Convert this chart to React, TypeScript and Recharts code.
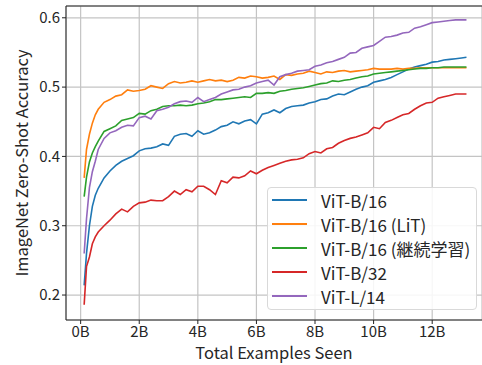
import React from 'react';
import { LineChart, Line, XAxis, YAxis, CartesianGrid, ReferenceLine } from 'recharts';

const steps = [
  0.12, 0.2, 0.3, 0.4, 0.5, 0.6, 0.8, 1.0, 1.2, 1.4, 1.6, 1.8, 2.0, 2.2, 2.4, 2.6, 2.8, 3.0, 3.2, 3.4,
  3.6, 3.8, 4.0, 4.2, 4.4, 4.6, 4.8, 5.0, 5.2, 5.4, 5.6, 5.8, 6.0, 6.2, 6.4, 6.6, 6.8, 7.0, 7.2, 7.4,
  7.6, 7.8, 8.0, 8.2, 8.4, 8.6, 8.8, 9.0, 9.2, 9.4, 9.6, 9.8, 10.0, 10.2, 10.4, 10.6, 10.8, 11.0, 11.2,
  11.4, 11.6, 11.8, 12.0, 12.2, 12.4, 12.6, 12.8, 13.0, 13.17,
];

const vitB16 = [
  0.214, 0.26, 0.3, 0.328, 0.344, 0.354, 0.369, 0.379, 0.387, 0.393, 0.397, 0.401, 0.408, 0.411, 0.412,
  0.414, 0.418, 0.416, 0.429, 0.432, 0.433, 0.429, 0.437, 0.432, 0.434, 0.438, 0.443, 0.445, 0.45, 0.447,
  0.451, 0.453, 0.447, 0.461, 0.463, 0.467, 0.463, 0.469, 0.472, 0.473, 0.474, 0.477, 0.479, 0.482, 0.483,
  0.487, 0.49, 0.489, 0.493, 0.497, 0.5, 0.502, 0.507, 0.509, 0.511, 0.514, 0.518, 0.522, 0.526, 0.529,
  0.531, 0.533, 0.536, 0.537, 0.539, 0.54, 0.541, 0.542, 0.543,
];

const vitB16Lit = [
  0.369, 0.41, 0.432, 0.448, 0.46, 0.468, 0.478, 0.482, 0.487, 0.489, 0.496, 0.494, 0.495, 0.497, 0.502,
  0.5, 0.498, 0.505, 0.508, 0.506, 0.507, 0.509, 0.507, 0.509, 0.511, 0.509, 0.51, 0.508, 0.51, 0.514,
  0.513, 0.516, 0.515, 0.513, 0.514, 0.516, 0.511, 0.518, 0.517, 0.519, 0.52, 0.523, 0.521, 0.519, 0.522,
  0.521, 0.523, 0.524, 0.522, 0.523, 0.524, 0.525, 0.527, 0.526, 0.526, 0.526, 0.527, 0.526, 0.527, 0.527,
  0.528, 0.528, 0.528, 0.528, 0.528, 0.528, 0.528, 0.528, 0.528,
];

const vitB16Cont = [
  0.342, 0.37, 0.392, 0.405, 0.414, 0.422, 0.436, 0.44, 0.444, 0.452, 0.454, 0.456, 0.462, 0.461, 0.466,
  0.468, 0.472, 0.473, 0.473, 0.474, 0.473, 0.474, 0.476, 0.477, 0.479, 0.482, 0.482, 0.483, 0.484, 0.485,
  0.486, 0.485, 0.491, 0.491, 0.492, 0.491, 0.494, 0.495, 0.497, 0.498, 0.499, 0.501, 0.503, 0.505, 0.506,
  0.509, 0.508, 0.51, 0.511, 0.513, 0.515, 0.516, 0.519, 0.52, 0.521, 0.522, 0.523, 0.524, 0.525, 0.526,
  0.527, 0.527, 0.528, 0.528, 0.529, 0.529, 0.529, 0.529, 0.529,
];

const vitB32 = [
  0.186, 0.241, 0.255, 0.274, 0.284, 0.291, 0.3, 0.308, 0.317, 0.324, 0.32, 0.328, 0.333, 0.334, 0.337,
  0.336, 0.336, 0.342, 0.35, 0.345, 0.352, 0.349, 0.357, 0.357, 0.352, 0.345, 0.365, 0.362, 0.37, 0.369,
  0.372, 0.379, 0.375, 0.38, 0.384, 0.387, 0.39, 0.393, 0.395, 0.396, 0.398, 0.404, 0.407, 0.405, 0.411,
  0.413, 0.419, 0.423, 0.426, 0.428, 0.431, 0.434, 0.442, 0.44, 0.449, 0.452, 0.456, 0.46, 0.462, 0.468,
  0.473, 0.477, 0.478, 0.484, 0.486, 0.488, 0.49, 0.49, 0.49,
];

const vitL14 = [
  0.26, 0.31, 0.355, 0.378, 0.393, 0.41, 0.426, 0.434, 0.437, 0.442, 0.445, 0.444, 0.456, 0.458, 0.454,
  0.466, 0.468, 0.471, 0.476, 0.479, 0.48, 0.478, 0.485, 0.479, 0.482, 0.485, 0.49, 0.493, 0.496, 0.497,
  0.5, 0.502, 0.506, 0.508, 0.51, 0.503, 0.515, 0.518, 0.52, 0.523, 0.524, 0.525, 0.53, 0.532, 0.535,
  0.537, 0.54, 0.543, 0.549, 0.55, 0.556, 0.558, 0.56, 0.566, 0.572, 0.573, 0.575, 0.578, 0.579, 0.585,
  0.587, 0.59, 0.593, 0.594, 0.595, 0.596, 0.597, 0.597, 0.597,
];

const xTicks = [0, 2, 4, 6, 8, 10, 12];
const yTicks = [0.2, 0.3, 0.4, 0.5, 0.6];

const series = [
  { key: 'b16', name: 'ViT-B/16', color: '#1f77b4' },
  { key: 'lit', name: 'ViT-B/16 (LiT)', color: '#ff7f0e' },
  { key: 'cont', name: 'ViT-B/16 (継続学習)', color: '#2ca02c' },
  { key: 'b32', name: 'ViT-B/32', color: '#d62728' },
  { key: 'l14', name: 'ViT-L/14', color: '#9467bd' },
];

const data = steps.map((x, i) => ({
  x,
  b16: vitB16[i],
  lit: vitB16Lit[i],
  cont: vitB16Cont[i],
  b32: vitB32[i],
  l14: vitL14[i],
}));

const font = '"Noto Sans CJK JP", "DejaVu Sans", sans-serif';
const Y_MIN = 0.164;
const Y_MAX = 0.617;

// legend drawn as an overlay so it doesn't shrink the plot area
const LegendBox = () => (
  <div
    style={{
      position: 'absolute',
      left: 267,
      top: 187,
      width: 210,
      height: 123,
      background: 'rgba(255,255,255,0.85)',
      border: '1px solid #d9d9d9',
      borderRadius: 4,
      fontFamily: font,
      fontSize: 17,
      color: '#262626',
      boxSizing: 'border-box',
    }}
  >
    {series.map((s) => (
      <div key={s.key} style={{ display: 'flex', alignItems: 'center', height: 24 }}>
        <div style={{ width: 35, height: 2, background: s.color, marginLeft: 4, marginRight: 14 }} />
        <span>{s.name}</span>
      </div>
    ))}
  </div>
);

export default function App() {
  return (
    <div style={{ position: 'absolute', left: 0, top: 0, width: 482, height: 365, background: '#fff' }}>
      <LineChart width={482} height={365} data={data} margin={{ top: 6, right: 0, bottom: 0, left: 0 }}>
        <CartesianGrid stroke="#c4c4c4" strokeWidth={1.2} />
        <XAxis
          dataKey="x"
          type="number"
          domain={[-0.5, 13.7]}
          ticks={xTicks}
          tickFormatter={(v) => `${v}B`}
          height={45}
          stroke="#222"
          tickSize={4}
          tick={{ fill: '#262626', fontSize: 15, fontFamily: font }}
          label={{ value: 'Total Examples Seen', position: 'insideBottom', offset: 6, fill: '#262626', fontSize: 16.5, fontFamily: font }}
        />
        <YAxis
          type="number"
          domain={[Y_MIN, Y_MAX]}
          ticks={yTicks}
          tickFormatter={(v) => v.toFixed(1)}
          width={66}
          stroke="#222"
          tickSize={4}
          tick={{ fill: '#262626', fontSize: 15, fontFamily: font }}
          label={{ value: 'ImageNet Zero-Shot Accuracy', angle: -90, position: 'insideLeft', offset: 22, style: { textAnchor: 'middle' }, fill: '#262626', fontSize: 16.5, fontFamily: font }}
        />
        <ReferenceLine y={Y_MAX} stroke="#222" strokeWidth={1} />
        {series.map((s) => (
          <Line
            key={s.key}
            dataKey={s.key}
            name={s.name}
            stroke={s.color}
            strokeWidth={1.6}
            dot={false}
            type="linear"
            isAnimationActive={false}
          />
        ))}
      </LineChart>
      <LegendBox />
    </div>
  );
}
